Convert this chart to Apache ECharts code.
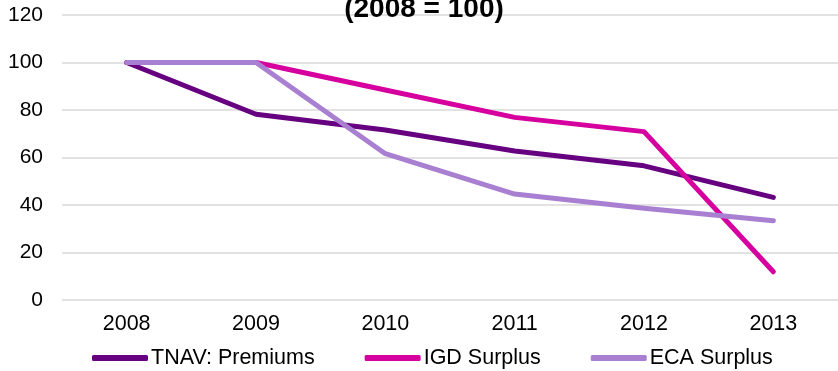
<!DOCTYPE html>
<html>
<head>
<meta charset="utf-8">
<style>
  html, body { margin: 0; padding: 0; background: #ffffff; }
  #chart { width: 838px; height: 371px; }
</style>
<script src="https://cdn.jsdelivr.net/npm/echarts@6/dist/echarts.min.js"></script>
</head>
<body>
<div id="chart"></div>
<script>
// Index values, base year 2008 = 100
const years = ['2008', '2009', '2010', '2011', '2012', '2013'];
const tnavPremiums = [100, 78.2, 71.6, 62.7, 56.5, 43.2];
const igdSurplus = [100, 100, 88.4, 76.9, 70.9, 11.9];
const ecaSurplus = [100, 100, 61.6, 44.6, 38.6, 33.4];
const seriesNames = ['TNAV: Premiums', 'IGD Surplus', 'ECA Surplus'];
const seriesColors = ['#660080', '#d6009f', '#a97fd2'];

const FONT = '"Liberation Sans", Arial, sans-serif';

const chart = echarts.init(document.getElementById('chart'));

function lineSeries(name, data, color) {
  return {
    name: name,
    type: 'line',
    data: data,
    symbol: 'none',
    lineStyle: { color: color, width: 5, cap: 'round', join: 'round' },
    itemStyle: { color: color },
    animation: false
  };
}

chart.setOption({
  backgroundColor: '#ffffff',
  animation: false,
  title: {
    text: '(2008 = 100)',
    left: 424,
    textAlign: 'center',
    top: -5,
    padding: 0,
    textStyle: { fontFamily: FONT, fontWeight: 'bold', fontSize: 28, color: '#000000' }
  },
  grid: { left: 62, right: -7, top: 15, bottom: 71, containLabel: false },
  xAxis: {
    type: 'category',
    data: years,
    boundaryGap: true,
    axisLine: { show: false },
    axisTick: { show: false },
    axisLabel: { fontFamily: FONT, fontSize: 21.5, color: '#000000', margin: 13 },
    splitLine: { show: false }
  },
  yAxis: {
    type: 'value',
    min: 0,
    max: 120,
    interval: 20,
    axisLine: { show: false },
    axisTick: { show: false },
    axisLabel: { fontFamily: FONT, fontSize: 21, color: '#000000', margin: 19 },
    splitLine: { show: true, lineStyle: { color: '#d9d9d9', width: 1.5 } }
  },
  legend: {
    left: 92,
    top: 347,
    itemWidth: 56,
    itemHeight: 6,
    itemGap: 50,
    icon: 'roundRect',
    padding: 0,
    textStyle: { fontFamily: FONT, fontSize: 21.5, color: '#000000', padding: [0, 0, 0, -2] },
    data: seriesNames
  },
  series: [
    lineSeries(seriesNames[0], tnavPremiums, seriesColors[0]),
    lineSeries(seriesNames[1], igdSurplus, seriesColors[1]),
    lineSeries(seriesNames[2], ecaSurplus, seriesColors[2])
  ]
});
</script>
</body>
</html>
